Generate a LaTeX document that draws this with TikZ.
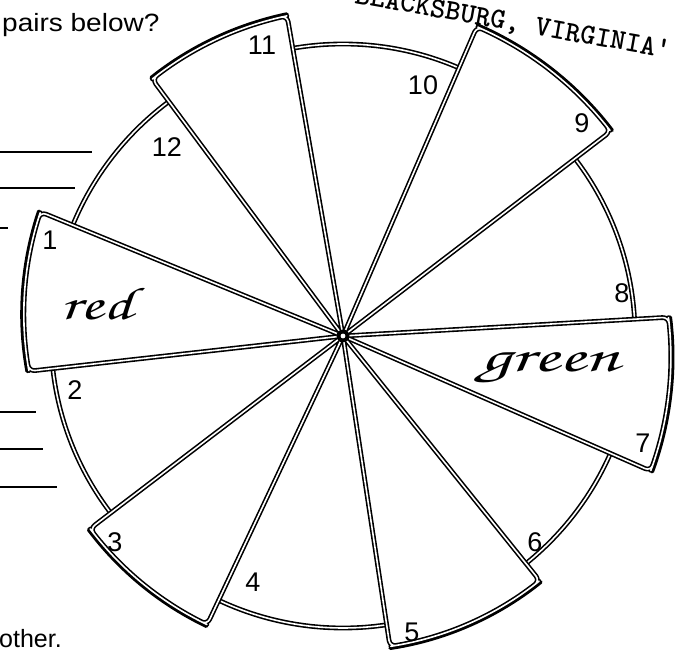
\documentclass[tikz,border=0pt]{standalone}
\usepackage{fontspec}
\setmainfont{Liberation Sans}
\newcommand\handw{\fontencoding{T1}\fontfamily{pzc}\fontseries{mb}\fontshape{it}\selectfont}
\begin{document}
\begin{tikzpicture}[x=1pt,y=1pt,
  dbl/.style={draw=black,line width=1.6pt,double=white,double distance=1.6pt,line join=round},
  heavy/.style={draw=black,line width=3.6pt,line cap=round,line join=round},
  blank/.style={draw=black,line width=1.6pt},
  num/.style={font=\fontsize{27}{27}\selectfont,inner sep=0pt},
  prose/.style={font=\fontsize{25}{25}\selectfont,inner sep=0pt,anchor=base west},
  hw/.style={font=\handw\fontsize{46}{46}\selectfont,inner sep=0pt}
]
\useasboundingbox (0,0) rectangle (680,655);
\clip (0,0) rectangle (680,655);
% answer blanks
\draw[blank] (0,503) -- (92,503);
\draw[blank] (0,467) -- (75,467);
\draw[blank] (0,427) -- (8,427);
\draw[blank] (0,243) -- (36,243);
\draw[blank] (0,206) -- (43,206);
\draw[blank] (0,168) -- (57,168);
% wheel
\begin{scope}[shift={(343,319)}]
\draw[dbl] (0,0) circle (292);
\foreach \aa/\ab/\ra/\rb in {99.9/126.6/325/320, 37.4/66.6/337/337, -23.7/3.3/336/326, -81.4/-51.2/314/314, 217.3/244.8/318/319, 157.7/186.4/327/316}{
  \fill[white] (0,0) -- plot[domain=\aa:\ab,samples=25] (\x:{\ra+(\rb-\ra)*(\x-\aa)/(\ab-\aa)}) -- cycle;
  \draw[heavy] plot[domain=\aa:\ab,samples=25] (\x:{\ra+1.8+(\rb-\ra)*(\x-\aa)/(\ab-\aa)});
  \draw[dbl,rounded corners=6pt] (0,0) -- plot[domain=\aa:\ab,samples=25] (\x:{\ra+(\rb-\ra)*(\x-\aa)/(\ab-\aa)}) -- cycle;
}
\fill (0,0) circle (6.5);
\fill[white] (0,0) circle (2.4);
\end{scope}
% numbers
\node[num] (n1) at (50,415) {1};
\node[num] (n2) at (75,265) {2};
\node[num] (n3) at (115,113) {3};
\node[num] (n4) at (253,73) {4};
\node[num] (n5) at (412,23) {5};
\node[num] (n6) at (535,113) {6};
\node[num] (n7) at (643,212) {7};
\node[num] (n8) at (622,362) {8};
\node[num] (n9) at (582,532) {9};
\node[num] (n10) at (423,570) {10};
\node[num] (n11) at (262,610) {11};
\node[num] (n12) at (167,508) {12};
% handwriting
\node[hw,xscale=1.45] (red) at (97,352) {red};
\node[hw,xscale=1.65] (green) at (550,286) {green};
% texts
\node[prose,xscale=1.12] (q) at (2,623) {pairs below?};
\node[prose] (o) at (-1,7) {other.};
\node[font=\ttfamily\bfseries\fontsize{29}{29}\selectfont,anchor=base west,rotate=-10,inner sep=0pt] (st) at (354,652) {BLACKSBURG, VIRGINIA'};
\end{tikzpicture}
\end{document}
